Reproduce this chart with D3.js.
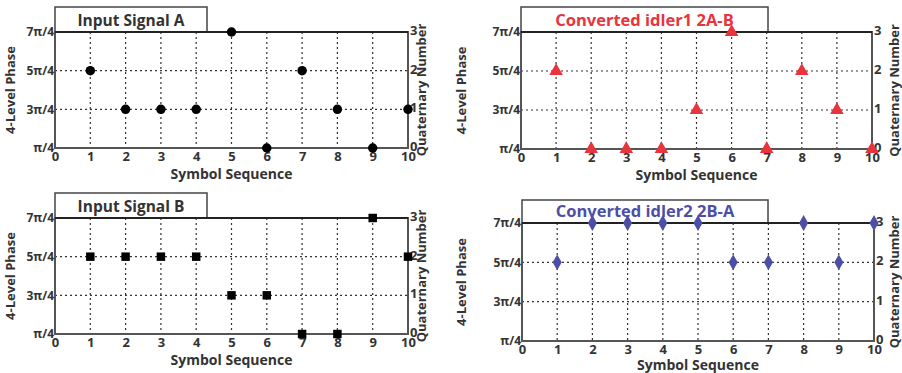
<!DOCTYPE html>
<html><head><meta charset="utf-8">
<script src="https://cdn.jsdelivr.net/npm/d3@7"></script>
<style>
body{margin:0;background:#fff;}
svg{display:block;}
text{font-family:"Open Sans","Liberation Sans",sans-serif;font-weight:bold;}
</style></head>
<body>
<svg id="c" width="902" height="373"></svg>
<script>
// ---- data ----
const symbols = [1,2,3,4,5,6,7,8,9,10];
const xTicks = [0,1,2,3,4,5,6,7,8,9,10];
const phaseTicks = ["π/4","3π/4","5π/4","7π/4"];
const quatTicks = ["0","1","2","3"];
const signalA = [2,1,1,1,3,0,2,1,0,1];
const signalB = [2,2,2,2,1,1,0,0,3,2];
const idler1  = [2,0,0,0,1,3,0,2,1,0];
const idler2  = [2,3,3,3,3,2,2,3,2,3];
const titles = ["Input Signal A","Converted idler1 2A-B","Input Signal B","Converted idler2  2B-A"];

// ---- layout ----
const panels = [
  {title:titles[0], values:signalA, L:55, R:408, T:32, B:148, boxR:207, boxT:7, color:"#000", titleColor:"#333", shape:"circle", yl:10, yr:421, xl:31},
  {title:titles[1], values:idler1, L:521, R:872, T:32, B:149, boxR:768, boxT:7, color:"#e8343c", titleColor:"#e8343c", shape:"triangle", yl:461, yr:894, xl:31},
  {title:titles[2], values:signalB, L:55, R:408, T:218, B:334, boxR:207, boxT:193, color:"#000", titleColor:"#333", shape:"square", yl:10, yr:421, xl:31},
  {title:titles[3], values:idler2, L:522, R:874, T:223, B:341, boxR:768, boxT:200, color:"#4d4fa6", titleColor:"#4d4fa6", shape:"diamond", yl:461, yr:894, xl:29}
];

const svg = d3.select("#c");
const symMap = {circle:d3.symbolCircle, triangle:d3.symbolTriangle, square:d3.symbolSquare, diamond:d3.symbolDiamond};
const symSize = {circle:70, triangle:80, square:72, diamond:72};

panels.forEach(p => {
  const g = svg.append("g");
  const x = d3.scaleLinear().domain([0,10]).range([p.L,p.R]);
  const y = d3.scaleLinear().domain([0,3]).range([p.B,p.T]);

  // title box
  g.append("rect").attr("x",p.L).attr("y",p.boxT).attr("width",p.boxR-p.L).attr("height",p.T-p.boxT)
    .attr("fill","#fff").attr("stroke","#444").attr("stroke-width",1.5);
  g.append("text").attr("x",(p.L+p.boxR)/2).attr("y",p.T-6).attr("text-anchor","middle")
    .attr("font-size",p.shape==="circle"||p.shape==="square"?15.5:16.5).attr("fill",p.titleColor).text(p.title);

  // grid
  g.append("g").selectAll("line").data(xTicks.slice(1,-1)).join("line")
    .attr("x1",d=>x(d)).attr("x2",d=>x(d)).attr("y1",p.T).attr("y2",p.B)
    .attr("stroke","#333").attr("stroke-width",1.2).attr("stroke-dasharray","2,3");
  g.append("g").selectAll("line").data([1,2]).join("line")
    .attr("x1",p.L).attr("x2",p.R).attr("y1",d=>y(d)).attr("y2",d=>y(d))
    .attr("stroke","#333").attr("stroke-width",1.2).attr("stroke-dasharray","2,3");

  // frame
  g.append("rect").attr("x",p.L).attr("y",p.T).attr("width",p.R-p.L).attr("height",p.B-p.T)
    .attr("fill","none").attr("stroke","#555").attr("stroke-width",2);
  g.append("line").attr("x1",p.L).attr("x2",p.R).attr("y1",p.T).attr("y2",p.T)
    .attr("stroke","#222").attr("stroke-width",2);

  // axes
  const xa = d3.axisBottom(x).tickValues(xTicks).tickSize(0).tickPadding(4).tickFormat(d3.format("d"));
  const xg = g.append("g").attr("transform",`translate(0,${p.B})`).call(xa);
  const ya = d3.axisLeft(y).tickValues([0,1,2,3]).tickSize(0).tickPadding(1).tickFormat(d=>phaseTicks[d]);
  const yg = g.append("g").attr("transform",`translate(${p.L},0)`).call(ya);
  const ya2 = d3.axisRight(y).tickValues([0,1,2,3]).tickSize(0).tickPadding(2).tickFormat(d=>quatTicks[d]);
  const yg2 = g.append("g").attr("transform",`translate(${p.R},0)`).call(ya2);
  [xg,yg,yg2].forEach(a=>{
    a.select(".domain").remove();
    a.selectAll("text").attr("font-size",13).attr("fill","#333")
      .style("font-family",'"Open Sans","Liberation Sans",sans-serif').style("font-weight","bold");
  });
  yg.selectAll("text").attr("font-size",12);
  yg2.selectAll("text").attr("dy","0.2em");

  // axis labels
  g.append("text").attr("x",(p.L+p.R)/2).attr("y",p.B+p.xl).attr("text-anchor","middle")
    .attr("font-size",14).attr("fill","#333").text("Symbol Sequence");
  g.append("text").attr("transform",`translate(${p.yl+5},${(p.T+p.B)/2}) rotate(-90)`).attr("text-anchor","middle")
    .attr("font-size",13).attr("fill","#333").text("4-Level Phase");
  g.append("text").attr("transform",`translate(${p.yr+5},${(p.T+p.B)/2}) rotate(-90)`).attr("text-anchor","middle")
    .attr("font-size",13).attr("fill","#333").text("Quaternary Number");

  // markers
  g.append("g").selectAll("path").data(symbols).join("path")
    .attr("transform",(d,i)=>`translate(${x(d)},${y(p.values[i])})`)
    .attr("d",d3.symbol().type(symMap[p.shape]).size(symSize[p.shape]))
    .attr("fill",p.color);
});
</script>
</body></html>
